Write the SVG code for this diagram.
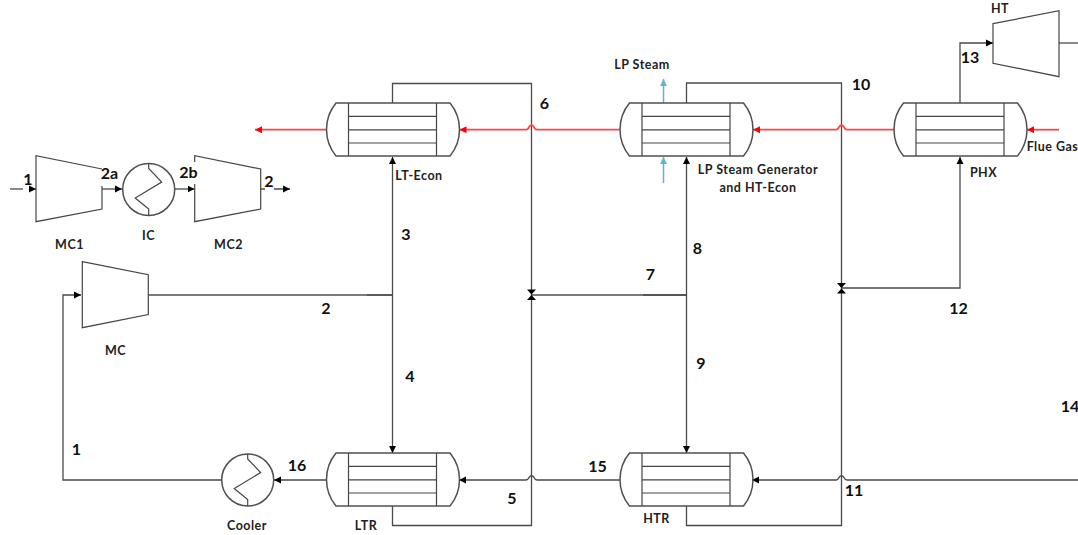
<svg xmlns="http://www.w3.org/2000/svg" width="1078" height="535" viewBox="0 0 1078 535">
<style>
.s{fill:none;stroke:#454545;stroke-width:1.2}
.p{fill:none;stroke:#4a4a4a;stroke-width:1.3}
.t{fill:none;stroke:#505050;stroke-width:1.5}
.r{fill:none;stroke:#ff4545;stroke-width:1.8}
.b{fill:none;stroke:#62b4cc;stroke-width:1.5}
.n{font:700 16px Lato,"Liberation Sans",sans-serif;fill:#111;text-anchor:middle}
.l{font:700 12.5px Lato,"Liberation Sans",sans-serif;fill:#222;text-anchor:middle;letter-spacing:.5px}
.v{fill:#000}
</style>
<defs>
<marker id="k" markerUnits="userSpaceOnUse" markerWidth="8" markerHeight="8" refX="7" refY="4" orient="auto"><path d="M0 .5L7 4L0 7.5Z" fill="#000"/></marker>
<marker id="mr" markerUnits="userSpaceOnUse" markerWidth="8" markerHeight="8" refX="7" refY="4" orient="auto"><path d="M0 .5L7 4L0 7.5Z" fill="#f00"/></marker>
<marker id="mb" markerUnits="userSpaceOnUse" markerWidth="8" markerHeight="8" refX="7" refY="4" orient="auto"><path d="M0 .5L7 4L0 7.5Z" fill="#62b4cc"/></marker>
<g id="hx">
<path class="t" d="M9.500 0H123.500A41.700 41.700 0 0 1 123.500 53H9.500A41.700 41.700 0 0 1 9.500 0Z"/>
<path class="s" d="M22 0V53M110 0V53M22 13.300H110M22 26.800H110M22 40H110"/>
</g>
<g id="cool">
<circle class="t" cx="0" cy="0" r="26"/>
<path class="s" d="M0-26V-21L13-7.500L-13.500 8.500L0 19.500V26"/>
</g>
</defs>

<g id="connectors">
<path class="p" d="M392.500 103V83.500H531.500V525.500H392.500V506"/>
<path class="p" d="M686.500 103V83H841.500V525.500H686.500V506"/>
<path class="t" d="M148.500 295H392.500"/>
<path class="p" d="M367 295H392.500" stroke-width="1.800"/>
<path class="p" d="M392.500 295V157" marker-end="url(#k)"/>
<path class="p" d="M392.500 295V453" marker-end="url(#k)"/>
<path class="t" d="M686.500 295H532"/>
<path class="p" d="M643 295H686.500" stroke-width="1.800"/>
<path class="p" d="M686.500 295V157" marker-end="url(#k)"/>
<path class="p" d="M686.500 295V453" marker-end="url(#k)"/>
<path class="p" d="M842 288H960V157" marker-end="url(#k)"/>
<path class="p" d="M960 103V43H993" marker-end="url(#k)"/>
<path class="p" d="M1059 43H1078"/>
<path class="p" d="M1078 480H847Q845 480 844 477.500Q841.500 474 839 477.500Q838 480 836 480H752" marker-end="url(#k)"/>
<path class="p" d="M620 480H537Q535 480 534 477.500Q531.500 474 529 477.500Q528 480 526 480H459" marker-end="url(#k)"/>
<path class="p" d="M326.500 480H274" marker-end="url(#k)"/>
<path class="p" d="M221.500 480H63V295H81" marker-end="url(#k)"/>
<path class="r" d="M1059 129.700H1027" marker-end="url(#mr)"/>
<path class="r" d="M894 129.700H847Q845 129.700 844 127Q841.500 123.500 839 127Q838 129.700 836 129.700H753" marker-end="url(#mr)"/>
<path class="r" d="M620 129.700H537Q535 129.700 534 127Q531.500 123.500 529 127Q528 129.700 526 129.700H459.500" marker-end="url(#mr)"/>
<path class="r" d="M326.500 129.700H255" marker-end="url(#mr)"/>
<path class="b" d="M663.500 103V79" marker-end="url(#mb)"/>
<path class="b" d="M663.500 183V157" marker-end="url(#mb)"/>
<path class="p" d="M10 189H23"/>
<path class="p" d="M31 189H36" marker-end="url(#k)"/>
<path class="p" d="M102 189H122" marker-end="url(#k)"/>
<path class="p" d="M175 189H194.500" marker-end="url(#k)"/>
<path class="p" d="M261 189H265M274 189H290" marker-end="url(#k)"/>
<path class="v" d="M527 289.500H536L531.500 294.500ZM527 300H536L531.500 295Z"/>
<path class="v" d="M837 283H846L841.500 288ZM837 293.500H846L841.500 288.500Z"/>
</g>

<g id="LT-Econ"><use href="#hx" x="326.500" y="103"/><text class="l" x="419" y="180">LT-Econ</text></g>
<g id="LP-Steam-Generator"><use href="#hx" x="620" y="103"/><text class="l" x="758" y="174">LP Steam Generator</text><text class="l" x="758" y="192">and HT-Econ</text></g>
<g id="PHX"><use href="#hx" x="894" y="103"/><text class="l" x="983.500" y="177">PHX</text></g>
<g id="LTR"><use href="#hx" x="326.500" y="453"/><text class="l" x="366" y="530">LTR</text></g>
<g id="HTR"><use href="#hx" x="620" y="453"/><text class="l" x="656.500" y="523">HTR</text></g>
<g id="Cooler"><use href="#cool" x="247.700" y="480"/><text class="l" x="247" y="530">Cooler</text></g>
<g id="IC"><use href="#cool" x="148.700" y="189.500"/><text class="l" x="148.500" y="240">IC</text></g>
<g id="MC1"><path class="s" d="M102 169L36 155.700V221.700L102 209V186"/><text class="l" x="69.500" y="249">MC1</text></g>
<g id="MC2"><path class="s" d="M194.700 162V155.700L260.700 169V209L194.700 221.700V184"/><text class="l" x="228.500" y="249">MC2</text></g>
<g id="MC"><path class="s" d="M82.300 261.700L148.300 274.700V314.500L82.300 327.700Z"/><text class="l" x="115.500" y="355">MC</text></g>
<g id="HT"><path class="s" d="M993 23.700L1059 10.700V76.700L993 63.300Z"/><text class="l" x="1000" y="13">HT</text></g>

<g id="labels">
<text class="n" x="28" y="185">1</text>
<text class="n" x="109.500" y="179">2a</text>
<text class="n" x="188.500" y="178">2b</text>
<text class="n" x="269" y="187">2</text>
<text class="n" x="326" y="314">2</text>
<text class="n" x="76.500" y="455">1</text>
<text class="n" x="406" y="240">3</text>
<text class="n" x="410" y="382">4</text>
<text class="n" x="512" y="504">5</text>
<text class="n" x="544.500" y="109">6</text>
<text class="n" x="650.500" y="280">7</text>
<text class="n" x="697.500" y="254">8</text>
<text class="n" x="701" y="369">9</text>
<text class="n" x="861" y="90">10</text>
<text class="n" x="854" y="496">11</text>
<text class="n" x="958.500" y="314">12</text>
<text class="n" x="970" y="63">13</text>
<text class="n" x="1070" y="412">14</text>
<text class="n" x="597.500" y="472">15</text>
<text class="n" x="297" y="471">16</text>
<text class="l" x="642" y="69">LP Steam</text>
<text class="l" x="1052.500" y="151">Flue Gas</text>
</g>
</svg>
